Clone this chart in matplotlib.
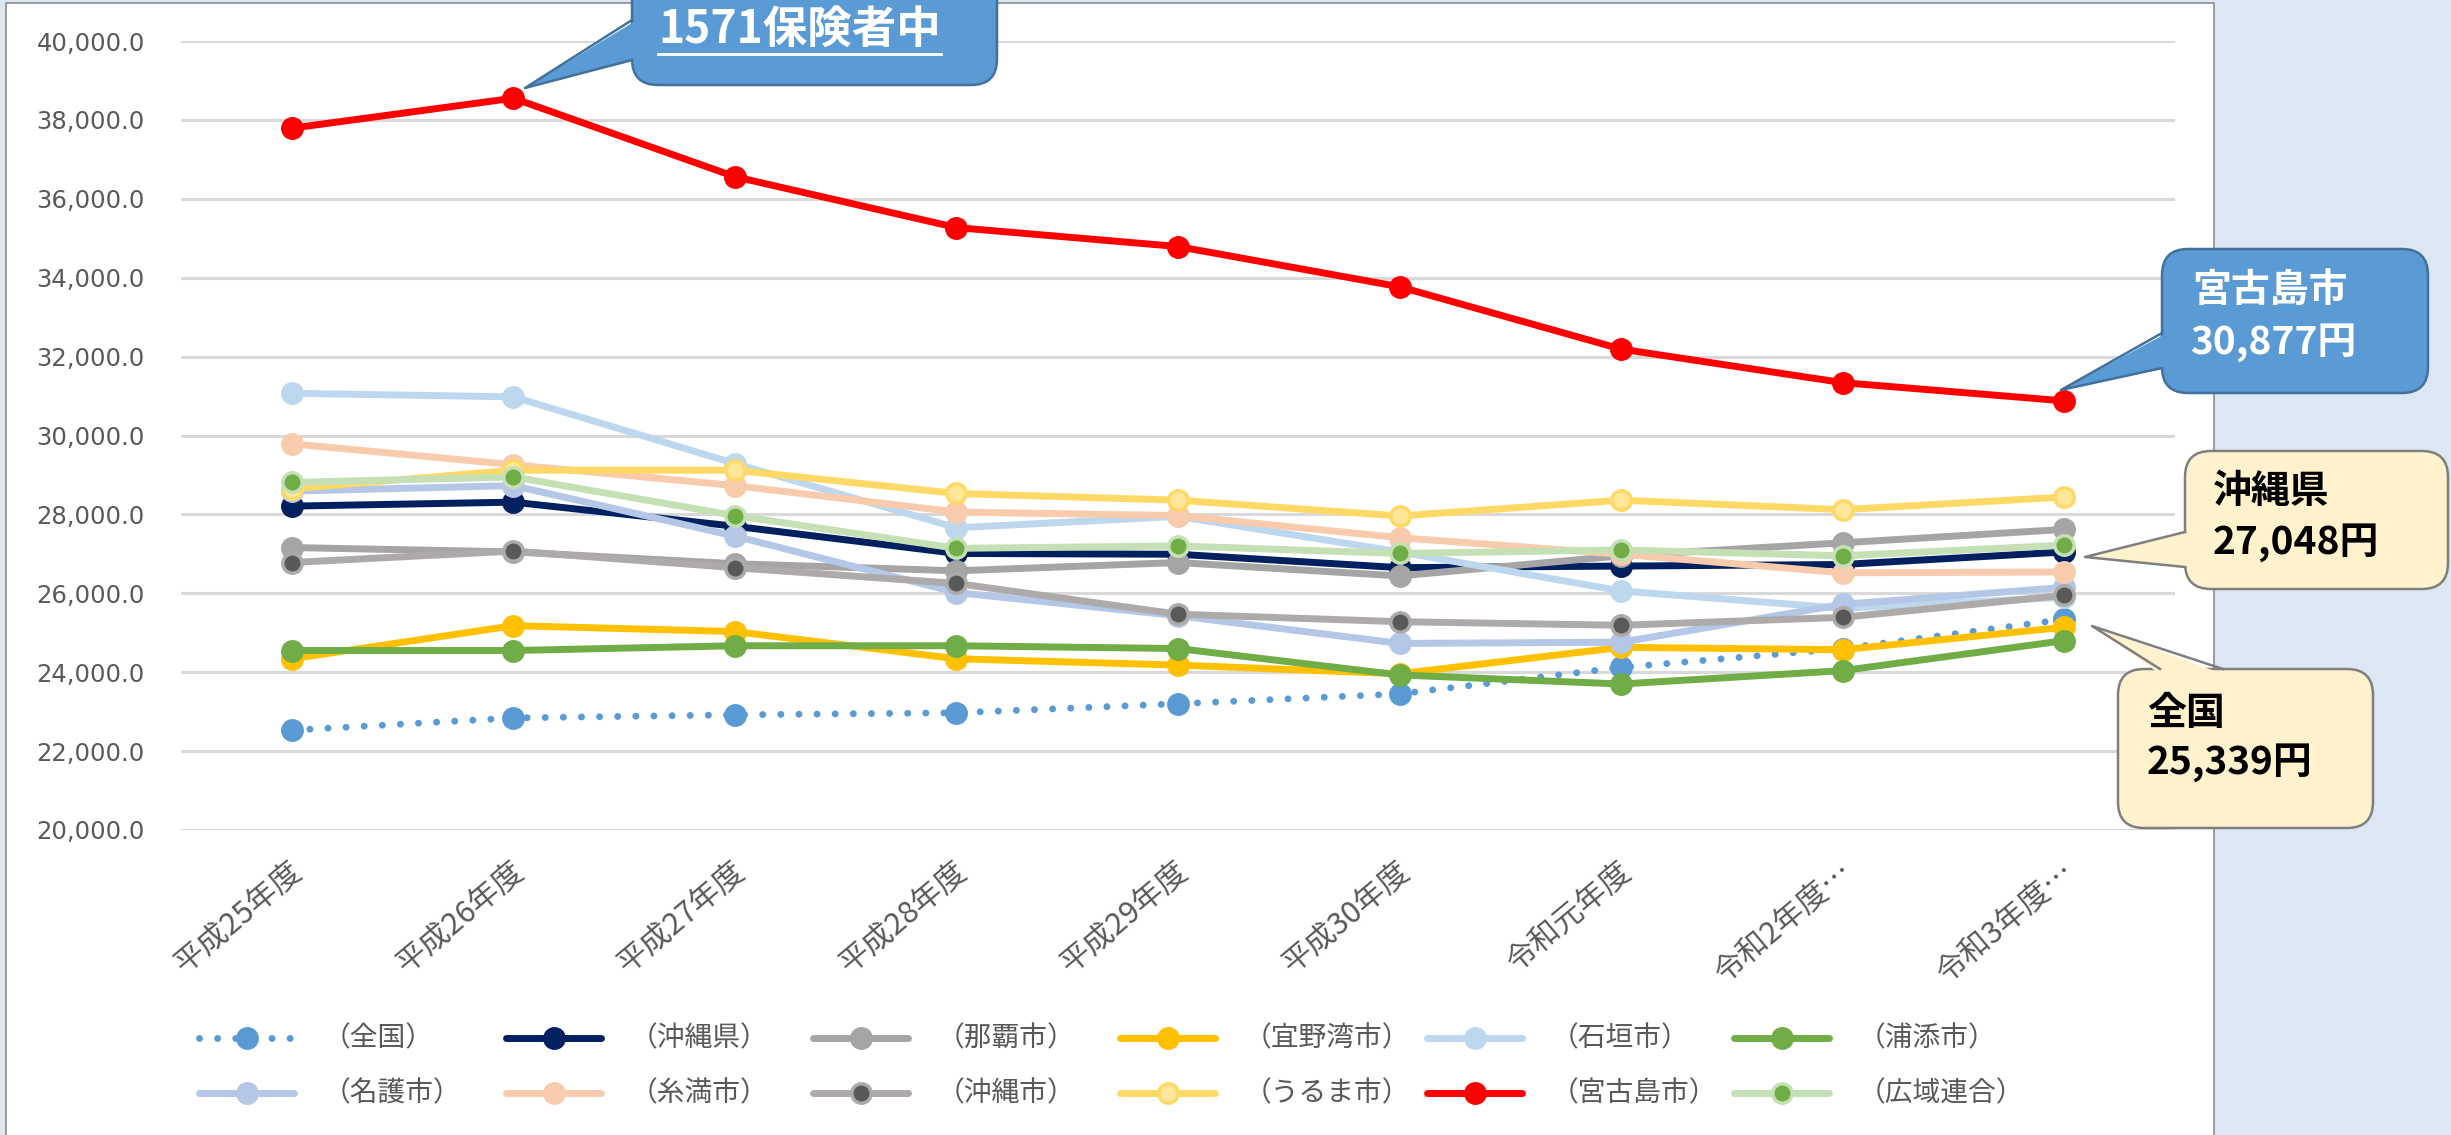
import matplotlib
matplotlib.use("Agg")
import matplotlib.pyplot as plt
from matplotlib.lines import Line2D
from matplotlib.patches import FancyBboxPatch, Polygon, Rectangle
from matplotlib.transforms import IdentityTransform, ScaledTranslation
from matplotlib.ticker import FuncFormatter

plt.rcParams['font.family'] = ['Noto Sans CJK JP', 'DejaVu Sans']

W, H = 2451, 1135

# datos (円)
years = ['平成25年度', '平成26年度', '平成27年度', '平成28年度', '平成29年度',
         '平成30年度', '令和元年度', '令和2年度…', '令和3年度…']
names = ['（全国）', '（沖縄県）', '（那覇市）', '（宜野湾市）', '（石垣市）', '（浦添市）',
         '（名護市）', '（糸満市）', '（沖縄市）', '（うるま市）', '（宮古島市）', '（広域連合）']

zenkoku = [22530, 22840, 22920, 22970, 23200, 23450, 24120, 24600, 25339]
okinawa_ken = [28210, 28310, 27700, 27010, 26990, 26650, 26690, 26730, 27048]
naha = [27160, 27050, 26750, 26570, 26780, 26440, 26950, 27280, 27620]
ginowan = [24340, 25180, 25030, 24340, 24180, 23960, 24630, 24570, 25140]
ishigaki = [31070, 30980, 29290, 27660, 27950, 27050, 26060, 25620, 25900]
urasoe = [24550, 24550, 24670, 24670, 24600, 23930, 23700, 24040, 24800]
nago = [28590, 28730, 27450, 26020, 25430, 24730, 24760, 25720, 26150]
itoman = [29790, 29260, 28730, 28060, 27970, 27410, 26990, 26520, 26540]
okinawa_shi = [26780, 27070, 26650, 26250, 25470, 25280, 25190, 25390, 25950]
uruma = [28650, 29120, 29120, 28530, 28360, 27960, 28360, 28120, 28440]
miyakojima = [37790, 38550, 36560, 35270, 34790, 33770, 32190, 31340, 30877]
kouiki = [28810, 28950, 27970, 27140, 27200, 27010, 27100, 26950, 27220]

series = [zenkoku, okinawa_ken, naha, ginowan, ishigaki, urasoe,
          nago, itoman, okinawa_shi, uruma, miyakojima, kouiki]

dotted = (0, (0.01, 2.6))
styles = [
    dict(color='#5B9BD5', ls=dotted, lw=5, mfc='#5B9BD5', mec='#5B9BD5'),
    dict(color='#002060', ls='-', lw=5, mfc='#002060', mec='#002060'),
    dict(color='#A5A5A5', ls='-', lw=5, mfc='#A5A5A5', mec='#A5A5A5'),
    dict(color='#FFC000', ls='-', lw=5, mfc='#FFC000', mec='#FFC000'),
    dict(color='#BDD7EE', ls='-', lw=5, mfc='#BDD7EE', mec='#BDD7EE'),
    dict(color='#70AD47', ls='-', lw=5, mfc='#70AD47', mec='#70AD47'),
    dict(color='#B4C7E7', ls='-', lw=5, mfc='#B4C7E7', mec='#B4C7E7'),
    dict(color='#F8CBAD', ls='-', lw=5, mfc='#F8CBAD', mec='#F8CBAD'),
    dict(color='#AEAAAA', ls='-', lw=5, mfc='#595959', mec='#AEAAAA'),
    dict(color='#FFD966', ls='-', lw=5, mfc='#FFE699', mec='#FFD966'),
    dict(color='#FF0000', ls='-', lw=5, mfc='#FF0000', mec='#FF0000'),
    dict(color='#C5E0B4', ls='-', lw=5, mfc='#70AD47', mec='#C5E0B4'),
]

fig = plt.figure(figsize=(W / 100, H / 100), dpi=100)
fig.patch.set_facecolor('#DDE7F3')

# panel blanco del grafico
fig.add_artist(Rectangle((6, -5), 2208, H - 3 + 5, transform=IdentityTransform(),
                         fc='white', ec='#8C8C8C', lw=1.2, zorder=-1))

ax = fig.add_axes([181 / W, 1 - 830 / H, (2175 - 181) / W, (830 - 41) / H])
ax.set_facecolor('white')
x = list(range(len(years)))
for vals, st in zip(series, styles):
    ax.plot(x, vals, color=st['color'], ls=st['ls'], lw=st['lw'],
            marker='o', ms=14, mfc=st['mfc'], mec=st['mec'], mew=2.5,
            dash_capstyle='round', solid_capstyle='round', solid_joinstyle='round')

ax.set_xlim(-0.5, 8.5)
ax.set_ylim(20000, 40000)
ax.set_yticks(range(20000, 40001, 2000))
ax.yaxis.set_major_formatter(FuncFormatter(lambda v, p: f'{v:,.1f}'))
ax.yaxis.grid(True, color='#D9D9D9', lw=2.2)
ax.set_axisbelow(True)
for s in ax.spines.values():
    s.set_visible(False)
ax.tick_params(axis='y', length=0, pad=26, labelsize=17.5, labelcolor='#595959')
for lab in ax.get_yticklabels():
    lab.set_family('DejaVu Sans')
ax.set_xticks(x)
ax.set_xticklabels(years, rotation=40, ha='right', va='center', rotation_mode='anchor')
ax.tick_params(axis='x', length=0, pad=27, labelsize=22, labelcolor='#595959')
off = ScaledTranslation(0.06, 0, fig.dpi_scale_trans)
for lab in ax.get_xticklabels():
    lab.set_transform(lab.get_transform() + off)

# leyenda (6 columnas x 2 filas, espaciado fijo como en Excel)
for i, (name, st) in enumerate(zip(names, styles)):
    row, col = divmod(i, 6)
    x0 = 199 + col * 307
    yy = H - (1038 + row * 55)
    fig.add_artist(Line2D([x0, x0 + 47.5, x0 + 95], [yy, yy, yy], transform=IdentityTransform(),
                          color=st['color'], ls=st['ls'], lw=st['lw'], marker='o', ms=14,
                          markevery=[1], mfc=st['mfc'], mec=st['mec'], mew=2.5,
                          dash_capstyle='round', solid_capstyle='round'))
    fig.text((x0 + 124) / W, yy / H, name, ha='left', va='center', fontsize=20, color='#595959')


def callout(x0, y0, x1, y1, tip, base, fc, ec, inward):
    # caja redondeada + flecha, coordenadas en pixeles de la imagen
    fig.add_artist(FancyBboxPatch((x0, H - y1), x1 - x0, y1 - y0,
                                  boxstyle='round,pad=0,rounding_size=26',
                                  transform=IdentityTransform(), fc=fc, ec=ec, lw=1.8, zorder=10))
    (bx1, by1), (bx2, by2) = base
    dx, dy = inward
    fig.add_artist(Polygon([(tip[0], H - tip[1]), (bx1 + dx, H - by1 - dy), (bx2 + dx, H - by2 - dy)],
                           closed=True, transform=IdentityTransform(), fc=fc, ec='none', zorder=11))
    fig.add_artist(Line2D([bx1, tip[0], bx2], [H - by1, H - tip[1], H - by2],
                          transform=IdentityTransform(), color=ec, lw=1.8, zorder=12))


def caption(xp, yp, s, color, size):
    return fig.text(xp / W, 1 - yp / H, s, ha='left', va='center', fontsize=size,
                    weight='bold', color=color, zorder=13)


callout(632, -40, 997, 85, (525, 88), ((632, 20), (632, 60)), '#5B9BD5', '#41719C', (5, 0))
t = caption(658, 30, '1571保険者中', 'white', 32)

callout(2162, 249, 2428, 393, (2061, 390), ((2162, 333), (2162, 368)), '#5B9BD5', '#41719C', (5, 0))
caption(2192, 290, '宮古島市', 'white', 28)
caption(2190, 343, '30,877円', 'white', 28)

callout(2185, 451, 2448, 589, (2085, 557), ((2185, 532), (2185, 567)), '#FFF2CC', '#7F7F7F', (5, 0))
caption(2213, 492, '沖縄県', 'black', 28)
caption(2213, 542, '27,048円', 'black', 28)

callout(2118, 669, 2373, 828, (2092, 626), ((2160, 669), (2223, 669)), '#FFF2CC', '#7F7F7F', (0, 5))
caption(2147, 713, '全国', 'black', 28)
caption(2147, 763, '25,339円', 'black', 28)

# subrayado del texto superior
fig.canvas.draw()
bb = t.get_window_extent()
fig.add_artist(Line2D([bb.x0, bb.x1], [H - 54, H - 54], transform=IdentityTransform(),
                      color='white', lw=2, zorder=13))

fig.savefig('out.png', dpi=100)
